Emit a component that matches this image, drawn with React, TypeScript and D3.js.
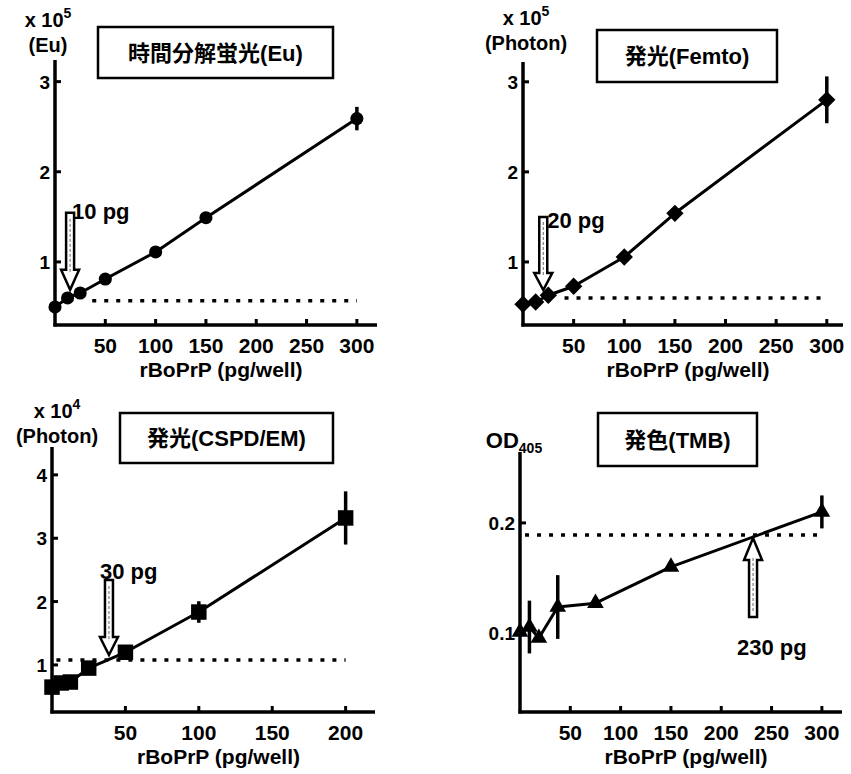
import React, { useEffect, useRef } from "react";
import * as d3 from "d3";

// rBoPrP (pg/well) and signal for each assay
const euConc = [0, 12.5, 25, 50, 100, 150, 300];
const euValues = [0.5, 0.6, 0.655, 0.81, 1.11, 1.49, 2.59];
const euErrors = [0, 0, 0, 0, 0, 0, 0.13];

const femtoConc = [0, 12.5, 25, 50, 100, 150, 300];
const femtoValues = [0.53, 0.555, 0.63, 0.73, 1.055, 1.54, 2.8];
const femtoErrors = [0, 0, 0, 0, 0, 0, 0.26];

const cspdConc = [0, 6.25, 12.5, 25, 50, 100, 200];
const cspdValues = [0.65, 0.715, 0.73, 0.95, 1.2, 1.835, 3.32];
const cspdErrors = [0, 0, 0, 0, 0, 0.17, 0.42];

const tmbConc = [0, 9.375, 18.75, 37.5, 75, 150, 300];
const tmbValues = [0.1008, 0.1053, 0.0953, 0.1235, 0.127, 0.16, 0.21];
const tmbErrors = [0, 0.024, 0, 0.029, 0, 0, 0.015];

const titles = ["時間分解蛍光(Eu)", "発光(Femto)", "発光(CSPD/EM)", "発色(TMB)"];
const yUnits = ["(Eu)", "(Photon)", "(Photon)", ""];
const yExponents = ["5", "5", "4", ""];
const yTicksA = [1, 2, 3];
const yTicksB = [1, 2, 3, 4];
const yTicksC = [0.1, 0.2];
const xTicks300 = [50, 100, 150, 200, 250, 300];
const xTicks200 = [50, 100, 150, 200];

// cut-off (dotted line) and detection limit arrows
const cutoffs = [0.57, 0.6, 1.078, 0.189];
const cutoffFrom = [37, 41, 3, 5];
const cutoffTo = [300, 300, 200, 300];
const lodX = [15, 20, 38.8, 231.6];
const lodY = [0.69, 0.689, 1.156, 0.1863];
const lodLabels = ["10 pg", "20 pg", "30 pg", "230 pg"];

const FONT = "'Liberation Sans', Arial, 'Noto Sans CJK JP', sans-serif";

const panels = [
  {
    conc: euConc, values: euValues, errors: euErrors, symbol: d3.symbolCircle, size: 135, rotate: 0,
    xRange: [55, 377], xDomain: [0, 320], yRange: [325, 60], yDomain: [0.3, 3.24],
    xTicks: xTicks300, yTicks: yTicksA, box: [98, 27, 235, 51], ylab: 48, ylabY: [27, 52],
    arrow: { dir: 1, len: 77, head: 20, lx: 2, ly: -71 },
  },
  {
    conc: femtoConc, values: femtoValues, errors: femtoErrors, symbol: d3.symbolSquare, size: 150, rotate: 45,
    xRange: [523, 843], xDomain: [0, 316], yRange: [325, 62], yDomain: [0.3, 3.22],
    xTicks: xTicks300, yTicks: yTicksA, box: [597, 30, 180, 52], ylab: 526, ylabY: [25, 50],
    arrow: { dir: 1, len: 73, head: 17, lx: 4, ly: -62 },
  },
  {
    conc: cspdConc, values: cspdValues, errors: cspdErrors, symbol: d3.symbolSquare, size: 240, rotate: 0,
    xRange: [52, 375], xDomain: [0, 220], yRange: [712, 447], yDomain: [0.257, 4.44],
    xTicks: xTicks200, yTicks: yTicksB, box: [120, 413, 213, 50], ylab: 57, ylabY: [418, 443],
    arrow: { dir: 1, len: 75, head: 18, lx: -9, ly: -76 },
  },
  {
    conc: tmbConc, values: tmbValues, errors: tmbErrors, symbol: d3.symbolTriangle, size: 120, rotate: 0,
    xRange: [520, 842], xDomain: [0, 320], yRange: [712, 452], yDomain: [0.028, 0.2645],
    xTicks: xTicks300, yTicks: yTicksC, box: [598, 413, 159, 53], ylab: 514, ylabY: [448, 448],
    arrow: { dir: -1, len: 79, head: 22, lx: -16, ly: 117 },
  },
];

const App = () => {
  const ref = useRef<SVGSVGElement>(null);

  useEffect(() => {
    const svg = d3.select(ref.current);
    svg.selectAll("*").remove();

    panels.forEach((p, i) => {
      const x = d3.scaleLinear().domain(p.xDomain).range(p.xRange);
      const y = d3.scaleLinear().domain(p.yDomain).range(p.yRange);
      const g = svg.append("g").attr("font-family", FONT).attr("font-weight", "bold");
      const x0 = p.xRange[0];
      const yb = p.yRange[0];

      // title box
      g.append("rect")
        .attr("x", p.box[0]).attr("y", p.box[1])
        .attr("width", p.box[2]).attr("height", p.box[3])
        .attr("fill", "#fff").attr("stroke", "#000").attr("stroke-width", 2.5);
      g.append("text")
        .attr("x", p.box[0] + p.box[2] / 2).attr("y", p.box[1] + p.box[3] / 2 + 8)
        .attr("text-anchor", "middle").attr("font-size", 22)
        .text(titles[i]);

      // axes
      g.append("line").attr("x1", x0).attr("x2", x0)
        .attr("y1", p.yRange[1]).attr("y2", yb + 1.5)
        .attr("stroke", "#000").attr("stroke-width", 3.5);
      g.append("line").attr("x1", x0 - 1.5).attr("x2", p.xRange[1])
        .attr("y1", yb).attr("y2", yb)
        .attr("stroke", "#000").attr("stroke-width", 3.5);

      g.selectAll(".xt").data(p.xTicks).join("line")
        .attr("x1", (d) => x(d)).attr("x2", (d) => x(d))
        .attr("y1", yb).attr("y2", yb - 6)
        .attr("stroke", "#000").attr("stroke-width", 3);
      g.selectAll(".xl").data(p.xTicks).join("text")
        .attr("x", (d) => x(d)).attr("y", yb + 28)
        .attr("text-anchor", "middle").attr("font-size", 21)
        .text((d) => d);
      g.append("text")
        .attr("x", (p.xRange[0] + p.xRange[1]) / 2 + 5).attr("y", yb + 52)
        .attr("text-anchor", "middle").attr("font-size", 21)
        .text("rBoPrP (pg/well)");

      g.selectAll(".yt").data(p.yTicks).join("line")
        .attr("x1", x0).attr("x2", x0 + 6)
        .attr("y1", (d) => y(d)).attr("y2", (d) => y(d))
        .attr("stroke", "#000").attr("stroke-width", 3);
      g.selectAll(".yl").data(p.yTicks).join("text")
        .attr("x", x0 - 5).attr("y", (d) => y(d) + 7)
        .attr("text-anchor", "end").attr("font-size", 19)
        .text((d) => d);

      // y label
      if (yExponents[i]) {
        const t = g.append("text").attr("x", p.ylab).attr("y", p.ylabY[0])
          .attr("text-anchor", "middle").attr("font-size", 20);
        t.append("tspan").text("x 10");
        t.append("tspan").attr("dy", -9).attr("font-size", 14).text(yExponents[i]);
        g.append("text").attr("x", p.ylab).attr("y", p.ylabY[1])
          .attr("text-anchor", "middle").attr("font-size", 20)
          .text(yUnits[i]);
      } else {
        const t = g.append("text").attr("x", p.ylab).attr("y", p.ylabY[0])
          .attr("text-anchor", "middle").attr("font-size", 22);
        t.append("tspan").text("OD");
        t.append("tspan").attr("dy", 5).attr("font-size", 14).text("405");
      }

      // cut-off line
      g.append("line")
        .attr("x1", x(cutoffFrom[i])).attr("x2", x(cutoffTo[i]))
        .attr("y1", y(cutoffs[i])).attr("y2", y(cutoffs[i]))
        .attr("stroke", "#000").attr("stroke-width", 3.5)
        .attr("stroke-dasharray", "4 8");

      const pts = p.conc.map((c, j) => ({ c, v: p.values[j], e: p.errors[j] }));

      // error bars
      g.selectAll(".eb").data(pts.filter((d) => d.e > 0)).join("line")
        .attr("x1", (d) => x(d.c)).attr("x2", (d) => x(d.c))
        .attr("y1", (d) => y(d.v - d.e)).attr("y2", (d) => y(d.v + d.e))
        .attr("stroke", "#000").attr("stroke-width", 3.5);

      // line
      g.append("path").datum(pts)
        .attr("fill", "none").attr("stroke", "#000").attr("stroke-width", 3)
        .attr("stroke-linejoin", "round")
        .attr("d", d3.line<{ c: number; v: number }>().x((d) => x(d.c)).y((d) => y(d.v)));

      // markers
      const sym = d3.symbol().type(p.symbol).size(p.size);
      g.selectAll(".pt").data(pts).join("path")
        .attr("d", sym())
        .attr("transform", (d) => `translate(${x(d.c)},${y(d.v)}) rotate(${p.rotate})`)
        .attr("fill", "#000");

      // detection limit arrow
      const a = p.arrow;
      const tx = x(lodX[i]);
      const ty = y(lodY[i]);
      const hw = 9;
      const sw = 4;
      const s = a.dir;
      const arrowPath = d3.path();
      arrowPath.moveTo(tx, ty);
      arrowPath.lineTo(tx - hw, ty - s * a.head);
      arrowPath.lineTo(tx - sw, ty - s * a.head);
      arrowPath.lineTo(tx - sw, ty - s * a.len);
      arrowPath.lineTo(tx + sw, ty - s * a.len);
      arrowPath.lineTo(tx + sw, ty - s * a.head);
      arrowPath.lineTo(tx + hw, ty - s * a.head);
      arrowPath.closePath();
      g.append("path").attr("d", arrowPath.toString())
        .attr("fill", "#fff").attr("stroke", "#000").attr("stroke-width", 2.5)
        .attr("stroke-linejoin", "miter");
      g.append("line")
        .attr("x1", tx).attr("x2", tx)
        .attr("y1", ty - s * (a.head - 2)).attr("y2", ty - s * (a.len - 4))
        .attr("stroke", "#666").attr("stroke-width", 1).attr("stroke-dasharray", "3 2");
      g.append("text")
        .attr("x", tx + a.lx).attr("y", ty + a.ly)
        .attr("font-size", 22)
        .text(lodLabels[i]);
    });
  }, []);

  return (
    <div style={{ position: "absolute", left: 0, top: 0 }}>
      <svg ref={ref} width={851} height={774} style={{ display: "block", background: "#fff" }} />
    </div>
  );
};

export default App;
